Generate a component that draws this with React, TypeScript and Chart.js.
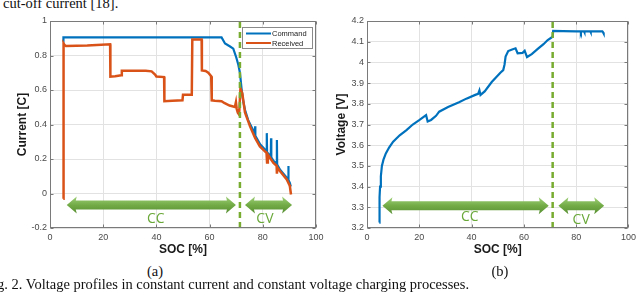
import { useEffect, useRef } from 'react';
import { Chart, registerables } from 'chart.js';

Chart.register(...registerables);
Chart.defaults.font.family = "'Liberation Sans', Arial, sans-serif";

// ---------- Data (a): current vs SOC ----------
const socCommand = [5.0, 5.05, 64.5, 65.8, 67.7, 68.9, 70.0, 70.8, 71.4, 72.0, 72.7, 73.3, 74.5, 76.4, 77.0, 77.1, 77.2, 79.0, 81.4, 81.5, 81.6, 83.0, 83.1, 83.2, 84.0, 85.2, 85.3, 85.4, 86.5, 89.0, 89.5, 89.6, 89.7, 90.2, 90.5];
const currentCommand = [0.88, 0.905, 0.905, 0.87, 0.852, 0.84, 0.79, 0.746, 0.70, 0.61, 0.53, 0.485, 0.425, 0.365, 0.34, 0.39, 0.335, 0.285, 0.245, 0.35, 0.24, 0.215, 0.32, 0.21, 0.19, 0.172, 0.31, 0.168, 0.138, 0.092, 0.082, 0.16, 0.078, 0.06, 0.04];

const socReceived = [5.0, 5.1, 5.5, 6.0, 14.0, 22.6, 22.7, 24.5, 26.8, 27.0, 36.0, 38.2, 39.5, 40.0, 42.9, 43.0, 46.0, 49.8, 50.0, 53.3, 53.5, 57.0, 57.1, 58.5, 59.5, 60.6, 60.8, 62.0, 64.5, 65.5, 67.5, 69.5, 69.9, 70.2, 70.6, 71.1, 71.6, 72.3, 73.3, 75.2, 77.1, 78.9, 81.4, 81.6, 81.9, 84.0, 85.2, 85.3, 85.5, 86.5, 89.0, 90.0, 90.2, 90.6];
const currentReceived = [-0.03, 0.87, 0.86, 0.855, 0.858, 0.865, 0.678, 0.68, 0.685, 0.712, 0.712, 0.708, 0.69, 0.678, 0.675, 0.535, 0.537, 0.54, 0.572, 0.572, 0.893, 0.893, 0.713, 0.71, 0.70, 0.68, 0.54, 0.538, 0.535, 0.525, 0.51, 0.502, 0.53, 0.49, 0.468, 0.457, 0.61, 0.58, 0.47, 0.389, 0.322, 0.273, 0.235, 0.18, 0.225, 0.177, 0.16, 0.115, 0.15, 0.129, 0.081, 0.05, 0.04, -0.006];

// ---------- Data (b): voltage vs SOC ----------
const socVoltage = [4.7, 4.75, 4.85, 5.0, 5.3, 5.7, 6.3, 7.2, 8.5, 10.0, 12.5, 15.1, 17.5, 20.1, 22.6, 23.2, 24.5, 26.4, 27.6, 31.0, 35.2, 38.0, 41.4, 42.5, 43.0, 43.4, 45.0, 47.7, 50.2, 51.0, 52.1, 52.6, 53.0, 54.0, 55.5, 56.8, 57.6, 59.5, 60.3, 61.2, 63.0, 65.3, 67.5, 69.1, 70.3, 71.0, 71.2, 75.0, 80.0, 81.7, 81.8, 81.9, 83.0, 83.1, 83.2, 85.4, 85.5, 85.6, 89.8, 90.0, 90.3, 90.5];
const voltage = [3.226, 3.29, 3.35, 3.40, 3.45, 3.50, 3.53, 3.56, 3.59, 3.617, 3.648, 3.673, 3.70, 3.722, 3.745, 3.715, 3.722, 3.742, 3.762, 3.784, 3.807, 3.825, 3.843, 3.848, 3.865, 3.843, 3.86, 3.905, 3.939, 3.95, 3.963, 3.99, 4.028, 4.055, 4.062, 4.068, 4.044, 4.046, 4.056, 4.026, 4.04, 4.065, 4.088, 4.108, 4.118, 4.124, 4.152, 4.151, 4.150, 4.150, 4.146, 4.150, 4.150, 4.146, 4.150, 4.150, 4.146, 4.150, 4.150, 4.150, 4.145, 4.14];

// ---------- Axis ranges / ticks ----------
const socRange = [0, 100];
const socStep = 20;
const currentRange = [-0.2, 1];
const currentStep = 0.2;
const voltageRange = [3.2, 4.2];
const voltageStep = 0.1;

// ---------- Annotation values ----------
const switchSocA = 71.4;
const switchSocB = 71.0;
const ccArrowA = [6.3, 69.9];
const cvArrowA = [73.3, 91.0];
const arrowLevelA = -0.067;
const ccLabelA = [39.8, -0.15];
const cvLabelA = [80.8, -0.15];
const ccArrowB = [5.9, 69.5];
const cvArrowB = [73.2, 90.7];
const arrowLevelB = 3.307;
const ccLabelB = [39.3, 3.251];
const cvLabelB = [81.9, 3.24];

const GREEN = '#77AC30';
const fmt = (v: number) => String(Math.round(v * 10) / 10);

const framePlugin = {
  id: 'frame',
  afterDraw(chart: any) {
    const { ctx, chartArea: a, scales } = chart;
    ctx.save();
    ctx.strokeStyle = '#7a7a7a';
    ctx.lineWidth = 1;
    const l = Math.round(a.left) + 0.5, t = Math.round(a.top) + 0.5;
    const r = Math.round(a.right) - 0.5, b = Math.round(a.bottom) - 0.5;
    ctx.strokeRect(l, t, r - l, b - t);
    ctx.beginPath();
    scales.x.ticks.forEach((tk: any) => {
      const px = Math.round(scales.x.getPixelForValue(tk.value)) + 0.5;
      ctx.moveTo(px, b); ctx.lineTo(px, b - 3);
      ctx.moveTo(px, t); ctx.lineTo(px, t + 3);
    });
    scales.y.ticks.forEach((tk: any) => {
      const py = Math.round(scales.y.getPixelForValue(tk.value)) + 0.5;
      ctx.moveTo(l, py); ctx.lineTo(l + 3, py);
      ctx.moveTo(r, py); ctx.lineTo(r - 3, py);
    });
    ctx.stroke();
    ctx.restore();
  },
};

function drawDoubleArrow(ctx: CanvasRenderingContext2D, x1: number, x2: number, cy: number) {
  const headLen = 10, headHalf = 8.5, bodyHalf = 4.5;
  const g = ctx.createLinearGradient(0, cy - headHalf, 0, cy + headHalf);
  g.addColorStop(0, '#9fcf78');
  g.addColorStop(0.5, '#72ab46');
  g.addColorStop(1, '#588f33');
  ctx.fillStyle = g;
  ctx.beginPath();
  ctx.moveTo(x1, cy);
  ctx.lineTo(x1 + headLen, cy - headHalf);
  ctx.lineTo(x1 + headLen - 1, cy - bodyHalf);
  ctx.lineTo(x2 - headLen + 1, cy - bodyHalf);
  ctx.lineTo(x2 - headLen, cy - headHalf);
  ctx.lineTo(x2, cy);
  ctx.lineTo(x2 - headLen, cy + headHalf);
  ctx.lineTo(x2 - headLen + 1, cy + bodyHalf);
  ctx.lineTo(x1 + headLen - 1, cy + bodyHalf);
  ctx.lineTo(x1 + headLen, cy + headHalf);
  ctx.closePath();
  ctx.fill();
}

function makeAnnotations(cfg: any) {
  return {
    id: 'annot',
    afterDatasetsDraw(chart: any) {
      const { ctx, chartArea: a, scales } = chart;
      const xs = scales.x, ys = scales.y;
      ctx.save();
      ctx.strokeStyle = GREEN;
      ctx.lineWidth = 2.5;
      ctx.setLineDash([6, 4]);
      const sx = xs.getPixelForValue(cfg.switchSoc);
      ctx.beginPath();
      ctx.moveTo(sx, a.top + 1);
      ctx.lineTo(sx, a.bottom);
      ctx.stroke();
      ctx.setLineDash([]);
      const cy = ys.getPixelForValue(cfg.level);
      drawDoubleArrow(ctx, xs.getPixelForValue(cfg.cc[0]), xs.getPixelForValue(cfg.cc[1]), cy);
      drawDoubleArrow(ctx, xs.getPixelForValue(cfg.cv[0]), xs.getPixelForValue(cfg.cv[1]), cy);
      ctx.fillStyle = '#6aa83a';
      ctx.font = "14px 'Open Sans', sans-serif";
      ctx.textAlign = 'center';
      ctx.textBaseline = 'middle';
      ctx.fillText('CC', xs.getPixelForValue(cfg.ccLabel[0]), ys.getPixelForValue(cfg.ccLabel[1]));
      ctx.fillText('CV', xs.getPixelForValue(cfg.cvLabel[0]), ys.getPixelForValue(cfg.cvLabel[1]));
      ctx.restore();
    },
    afterDraw(chart: any) {
      if (!cfg.legend) return;
      const { ctx, chartArea: a } = chart;
      ctx.save();
      const bx = Math.round(a.right) - 73.5, by = Math.round(a.top) + 6.5, bw = 70, bh = 21;
      ctx.fillStyle = '#ffffff';
      ctx.fillRect(bx, by, bw, bh);
      ctx.strokeStyle = '#8a8a8a';
      ctx.lineWidth = 1;
      ctx.strokeRect(bx, by, bw, bh);
      const items = chart.data.datasets.map((d: any) => ({ label: d.label, color: d.borderColor }));
      items.sort((p: any) => (p.label === 'Command' ? -1 : 1));
      ctx.font = "7.5px 'Liberation Sans', Arial, sans-serif";
      ctx.textBaseline = 'middle';
      items.forEach((it: any, i: number) => {
        const yy = by + 6 + i * 9.5;
        ctx.strokeStyle = it.color;
        ctx.lineWidth = 2;
        ctx.beginPath();
        ctx.moveTo(bx + 3.5, yy);
        ctx.lineTo(bx + 28.5, yy);
        ctx.stroke();
        ctx.fillStyle = '#222';
        ctx.fillText(it.label, bx + 29.5, yy + 0.5);
      });
      ctx.restore();
    },
  };
}

function axisOptions(range: number[], step: number, title: string, isX: boolean, fitSize: number, titlePad: any) {
  return {
    type: 'linear',
    min: range[0],
    max: range[1],
    ticks: {
      stepSize: step,
      font: { size: 9 },
      color: '#4a4a4a',
      padding: isX ? 4 : 3,
      maxRotation: 0,
      autoSkip: false,
      callback: (v: number) => fmt(v),
    },
    grid: { color: '#e2e2e2', drawTicks: false, lineWidth: 1 },
    border: { display: false },
    title: {
      display: true,
      text: title,
      font: { size: 12, weight: 'bold' },
      color: '#1a1a1a',
      padding: titlePad,
    },
    afterFit: (s: any) => {
      if (isX) s.height = fitSize; else s.width = fitSize;
    },
  };
}

function useChart(ref: any, config: () => any) {
  useEffect(() => {
    const chart = new Chart(ref.current, config());
    return () => chart.destroy();
  }, []);
}

export default function App() {
  const leftRef = useRef<HTMLCanvasElement>(null);
  const rightRef = useRef<HTMLCanvasElement>(null);

  useChart(leftRef, () => ({
    type: 'line',
    data: {
      datasets: [
        {
          label: 'Received',
          data: socReceived.map((x, i) => ({ x, y: currentReceived[i] })),
          borderColor: '#D95319',
          borderWidth: 2.5,
          pointRadius: 0,
          tension: 0,
          order: 0,
        },
        {
          label: 'Command',
          data: socCommand.map((x, i) => ({ x, y: currentCommand[i] })),
          borderColor: '#0072BD',
          borderWidth: 2.2,
          pointRadius: 0,
          tension: 0,
          order: 1,
        },
      ],
    },
    options: {
      animation: false,
      responsive: false,
      layout: { padding: { left: 0, right: 24, top: 21, bottom: 0 } },
      plugins: { legend: { display: false }, tooltip: { enabled: false } },
      scales: {
        x: axisOptions(socRange, socStep, 'SOC [%]', true, 32, { top: 0, bottom: 3 }),
        y: axisOptions(currentRange, currentStep, 'Current [C]', false, 50, { top: 15, bottom: 0 }),
      },
    },
    plugins: [
      framePlugin,
      makeAnnotations({ switchSoc: switchSocA, cc: ccArrowA, cv: cvArrowA, level: arrowLevelA, ccLabel: ccLabelA, cvLabel: cvLabelA, legend: true }),
    ],
  }));

  useChart(rightRef, () => ({
    type: 'line',
    data: {
      datasets: [
        {
          label: 'Voltage',
          data: socVoltage.map((x, i) => ({ x, y: voltage[i] })),
          borderColor: '#0072BD',
          borderWidth: 2.2,
          pointRadius: 0,
          tension: 0,
        },
      ],
    },
    options: {
      animation: false,
      responsive: false,
      layout: { padding: { left: 0, right: 8, top: 21, bottom: 0 } },
      plugins: { legend: { display: false }, tooltip: { enabled: false } },
      scales: {
        x: axisOptions(socRange, socStep, 'SOC [%]', true, 32, { top: 0, bottom: 3 }),
        y: axisOptions(voltageRange, voltageStep, 'Voltage [V]', false, 47, { top: 14, bottom: 0 }),
      },
    },
    plugins: [
      framePlugin,
      makeAnnotations({ switchSoc: switchSocB, cc: ccArrowB, cv: cvArrowB, level: arrowLevelB, ccLabel: ccLabelB, cvLabel: cvLabelB, legend: false }),
    ],
  }));

  const serif: any = {
    position: 'absolute',
    fontFamily: "'Liberation Serif', 'Times New Roman', serif",
    fontSize: 14.5,
    lineHeight: '14px',
    whiteSpace: 'nowrap',
    color: '#111',
  };

  return (
    <div style={{ position: 'fixed', left: 0, top: 0, width: 640, height: 295, overflow: 'hidden', background: '#fff' }}>
      <div style={{ ...serif, left: 3, top: -4 }}>cut-off current [18].</div>
      <canvas ref={leftRef} width={340} height={260} style={{ position: 'absolute', left: 0, top: 0, width: 340, height: 260 }} />
      <canvas ref={rightRef} width={320} height={260} style={{ position: 'absolute', left: 320, top: 0, width: 320, height: 260 }} />
      <div style={{ ...serif, left: 155, top: 264, transform: 'translateX(-50%)' }}>(a)</div>
      <div style={{ ...serif, left: 500, top: 264, transform: 'translateX(-50%)' }}>(b)</div>
      <div style={{ ...serif, left: -15, top: 277 }}>Fig. 2. Voltage profiles in constant current and constant voltage charging processes.</div>
    </div>
  );
}
